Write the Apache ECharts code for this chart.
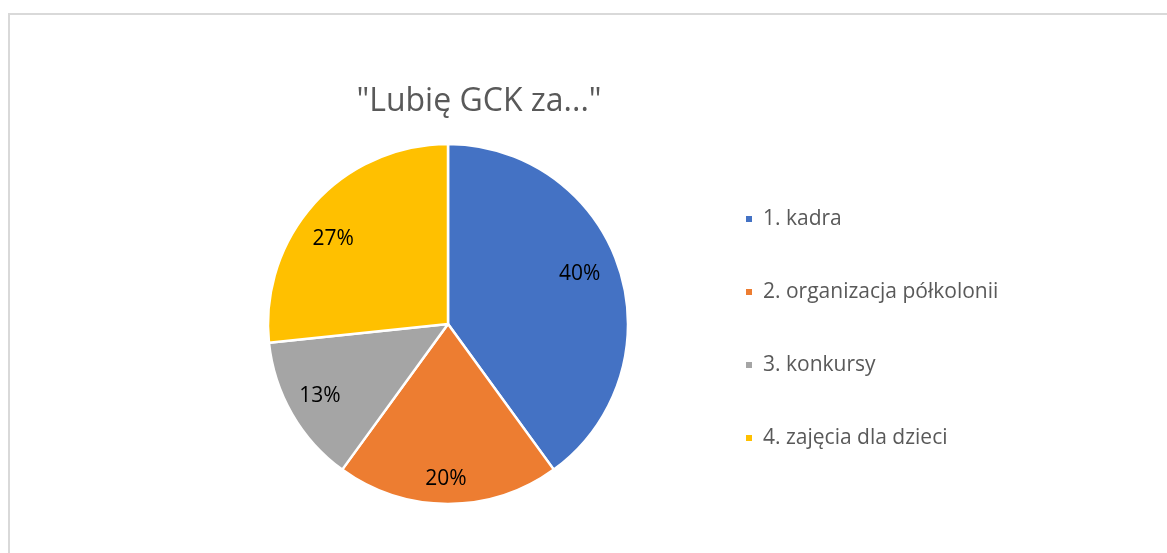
<!DOCTYPE html>
<html>
<head>
<meta charset="utf-8">
<script src="https://cdn.jsdelivr.net/npm/echarts@6/dist/echarts.min.js"></script>
<style>
html,body{margin:0;padding:0;background:#fff;}
#frame{position:absolute;left:8px;top:13px;width:1200px;height:600px;border:2px solid #d9d9d9;box-sizing:border-box;}
#chart{position:absolute;left:0;top:0;width:1167px;height:553px;}
</style>
</head>
<body>
<div id="frame"></div>
<div id="chart"></div>
<script>
const titleText = '"Lubię GCK za..."';
const categories = ['1. kadra', '2. organizacja półkolonii', '3. konkursy', '4. zajęcia dla dzieci'];
const values = [12, 6, 4, 8];
const colors = ['#4472C4', '#ED7D31', '#A5A5A5', '#FFC000'];
const labelOffsets = [[-10, -4], [-2, 6], [1, -2], [-4, 15]];

const font = '"Open Sans", "Liberation Sans", sans-serif';
const data = categories.map((c, i) => ({ name: c, value: values[i], itemStyle: { color: colors[i] } }));
const labelData = categories.map((c, i) => ({ name: c, value: values[i], label: { offset: labelOffsets[i] } }));

const chart = echarts.init(document.getElementById('chart'), null, { renderer: 'canvas' });
chart.setOption({
  animation: false,
  backgroundColor: 'transparent',
  title: {
    text: titleText,
    left: 474, top: 81, textAlign: 'center',
    textStyle: { fontFamily: font, fontSize: 32, fontWeight: 'normal', color: '#595959' }
  },
  legend: {
    orient: 'vertical',
    left: 744, top: 208,
    padding: 0,
    itemWidth: 8, itemHeight: 8, itemGap: 51,
    icon: 'rect',
    data: categories,
    textStyle: { fontFamily: font, fontSize: 21, color: '#595959', lineHeight: 22, padding: [0, 0, 0, 5] }
  },
  series: [
    {
      type: 'pie',
      center: [448, 324],
      radius: [0, 180],
      startAngle: 90,
      clockwise: true,
      silent: true,
      label: { show: false },
      labelLine: { show: false },
      itemStyle: { borderColor: '#fff', borderWidth: 2.5 },
      data: data
    },
    {
      type: 'pie',
      center: [448, 324],
      radius: [112, 180],
      startAngle: 90,
      clockwise: true,
      silent: true,
      legendHoverLink: false,
      itemStyle: { color: 'rgba(0,0,0,0)', borderWidth: 0 },
      label: {
        show: true, position: 'inside',
        formatter: p => Math.round(p.percent) + '%',
        fontFamily: font, fontSize: 21, color: '#000'
      },
      labelLine: { show: false },
      data: labelData
    }
  ]
});
</script>
</body>
</html>
